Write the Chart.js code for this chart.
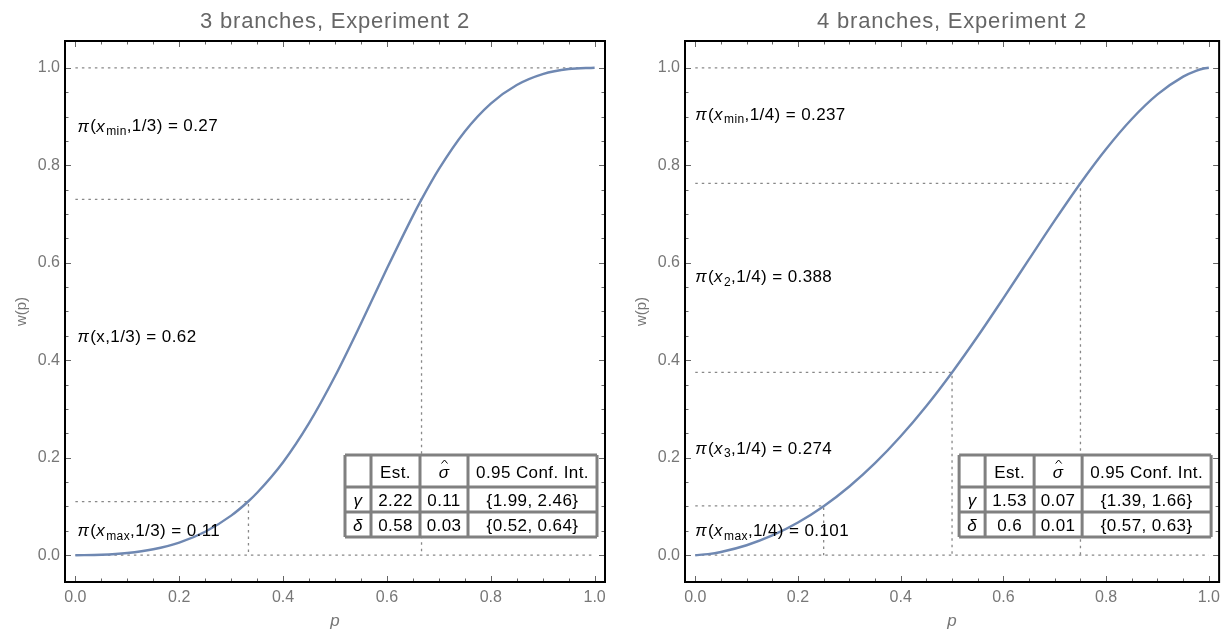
<!DOCTYPE html>
<html>
<head>
<meta charset="utf-8">
<script src="https://cdn.jsdelivr.net/npm/chart.js@4.4.1/dist/chart.umd.min.js"></script>
<style>
  body { margin: 0; background: #fff; }
  .panel { position: absolute; top: 0; height: 634px; }
</style>
</head>
<body>
<div class="panel" style="left:0;width:613px"><canvas id="chart3"></canvas></div>
<div class="panel" style="left:620px;width:606px"><canvas id="chart4"></canvas></div>
<script>
// weighting curve w(p), 3 branches
const p3 = [0, 0.05, 0.1, 0.15, 0.2, 0.25, 0.3, 1/3, 0.35, 0.4, 0.45, 0.5, 0.55, 0.6, 0.65, 2/3, 0.7, 0.75, 0.8, 0.85, 0.9, 0.95, 1];
const w3 = [0, 0.0008, 0.0044, 0.0122, 0.026, 0.0482, 0.0812, 0.1107, 0.128, 0.1908, 0.2709, 0.3671, 0.4753, 0.588, 0.6962, 0.7299, 0.7919, 0.8692, 0.9264, 0.9646, 0.987, 0.9975, 1];
// weighting curve w(p), 4 branches
const p4 = [0, 0.025, 0.05, 0.1, 0.15, 0.2, 0.25, 0.3, 0.35, 0.4, 0.45, 0.5, 0.55, 0.6, 0.65, 0.7, 0.75, 0.8, 0.85, 0.9, 0.95, 0.975, 0.99, 1];
const w4 = [0, 0.0022, 0.0066, 0.0204, 0.0405, 0.0671, 0.1005, 0.141, 0.1888, 0.244, 0.3062, 0.375, 0.4492, 0.5274, 0.6074, 0.6869, 0.7632, 0.8334, 0.895, 0.9454, 0.9819, 0.9939, 0.9985, 1];

// decision weights, listed top (x_min) to bottom (x_max)
const pi3 = [0.27, 0.62, 0.11];
const pi4 = [0.237, 0.388, 0.274, 0.101];
const branchP3 = [2/3, 1/3];          // cumulative probabilities, top to bottom
const branchP4 = [0.75, 0.5, 0.25];

// parameter estimates: gamma, delta
const est3 = [2.22, 0.58], se3 = [0.11, 0.03], ci3 = [[1.99, 2.46], [0.52, 0.64]];
const est4 = [1.53, 0.6],  se4 = [0.07, 0.01], ci4 = [[1.39, 1.66], [0.57, 0.63]];

const xTicks = [0, 0.2, 0.4, 0.6, 0.8, 1.0];
const yTicks = [0, 0.2, 0.4, 0.6, 0.8, 1.0];

const FONT = '"Liberation Sans", Arial, sans-serif';
const GREY = '#777';
Chart.defaults.font.family = FONT;

// label parts: [text, style] where style is '', 'i' (italic) or 'sub'
function piLabel(sub, frac, v) {
  const parts = [['π', 'i'], ['(', '']];
  if (sub === null) parts.push(['x', '']);
  else { parts.push(['x', 'i']); parts.push([sub, 'sub']); }
  parts.push([',' + frac + ') = ' + v, '']);
  return parts;
}

function drawRich(ctx, parts, x, y) {
  ctx.textBaseline = 'middle';
  ctx.textAlign = 'left';
  ctx.fillStyle = '#000';
  ctx.letterSpacing = '0.4px';
  for (const [t, s] of parts) {
    if (s === 'sub') {
      ctx.font = '12px ' + FONT;
      ctx.fillText(t, x, y + 5);
    } else {
      ctx.font = (s === 'i' ? 'italic ' : '') + '17px ' + FONT;
      ctx.fillText(t, x, y);
    }
    x += ctx.measureText(t).width + (s === 'i' ? 1 : 0);
  }
  ctx.letterSpacing = '0px';
}

function drawTable(ctx, area, est, se, ci) {
  const colW = [26, 49, 48, 129];
  const rowH = [32, 25, 25];
  const W = colW.reduce((a, b) => a + b), H = rowH.reduce((a, b) => a + b);
  const x0 = area.right - 8 - W, y0 = area.bottom - 45 - H;
  ctx.save();
  ctx.fillStyle = '#fff';
  ctx.fillRect(x0, y0, W, H);
  const rows = [
    ['', 'Est.', 'σ', '0.95 Conf. Int.'],
    ['γ', String(est[0]), se[0].toFixed(2), '{' + ci[0].join(', ') + '}'],
    ['δ', String(est[1]), se[1].toFixed(2), '{' + ci[1].join(', ') + '}']
  ];
  ctx.textAlign = 'center';
  ctx.textBaseline = 'middle';
  ctx.fillStyle = '#000';
  ctx.letterSpacing = '0.4px';
  let y = y0;
  rows.forEach((row, r) => {
    let x = x0;
    row.forEach((txt, c) => {
      const italic = (c === 0 && r > 0) || (r === 0 && c === 2);
      ctx.font = (italic ? 'italic ' : '') + '17px ' + FONT;
      const cx = x + colW[c] / 2, cy = y + rowH[r] / 2 + 2;
      ctx.fillText(txt, cx, cy);
      if (r === 0 && c === 2) {
        // hat over sigma
        ctx.beginPath();
        ctx.lineWidth = 1;
        ctx.strokeStyle = '#000';
        ctx.moveTo(cx - 2.5, cy - 9.5);
        ctx.lineTo(cx + 0.5, cy - 13);
        ctx.lineTo(cx + 3.5, cy - 9.5);
        ctx.stroke();
      }
      x += colW[c];
    });
    y += rowH[r];
  });
  ctx.letterSpacing = '0px';
  ctx.strokeStyle = '#808080';
  ctx.lineWidth = 3;
  ctx.beginPath();
  let cx = x0;
  for (let c = 0; c <= colW.length; c++) {
    ctx.moveTo(cx, y0); ctx.lineTo(cx, y0 + H);
    cx += colW[c] || 0;
  }
  let cy = y0;
  for (let r = 0; r <= rowH.length; r++) {
    ctx.moveTo(x0, cy); ctx.lineTo(x0 + W, cy);
    cy += rowH[r] || 0;
  }
  ctx.stroke();
  ctx.restore();
}

// frame with inward ticks on all four sides, title and annotations
const framePlugin = {
  id: 'frame',
  afterDatasetsDraw(chart, args, opts) {
    const ctx = chart.ctx, a = chart.chartArea;
    const xs = chart.scales.x, ys = chart.scales.y;
    ctx.save();
    opts.labels.forEach((parts, i) => {
      drawRich(ctx, parts, xs.getPixelForValue(opts.labelX), ys.getPixelForValue(opts.labelY[i]));
    });
    drawTable(ctx, a, opts.est, opts.se, opts.ci);

    ctx.strokeStyle = '#666';
    ctx.lineWidth = 1;
    ctx.beginPath();
    for (let k = 0; k <= 20; k++) {
      const v = k * 0.05, len = k % 4 === 0 ? 6 : 3.5;
      const px = Math.round(xs.getPixelForValue(v)) + 0.5;
      ctx.moveTo(px, a.bottom); ctx.lineTo(px, a.bottom - len);
      ctx.moveTo(px, a.top); ctx.lineTo(px, a.top + len);
      const py = Math.round(ys.getPixelForValue(v)) + 0.5;
      ctx.moveTo(a.left, py); ctx.lineTo(a.left + len, py);
      ctx.moveTo(a.right, py); ctx.lineTo(a.right - len, py);
    }
    ctx.stroke();
    ctx.strokeStyle = '#000';
    ctx.lineWidth = 2;
    ctx.strokeRect(a.left, a.top, a.right - a.left, a.bottom - a.top);

    ctx.font = '22px ' + FONT;
    ctx.letterSpacing = '0.8px';
    ctx.fillStyle = '#666';
    ctx.textAlign = 'center';
    ctx.textBaseline = 'middle';
    ctx.fillText(opts.title, (a.left + a.right) / 2, 21.5);
    ctx.letterSpacing = '0px';
    ctx.restore();
  }
};

function guideSets(branchP, pis) {
  // cumulative weights from the bottom branch upward
  const cum = [];
  let s = 0;
  for (let i = pis.length - 1; i > 0; i--) { s += pis[i]; cum.unshift(+s.toFixed(3)); }
  const dash = { borderColor: '#888', borderWidth: 1.3, borderDash: [2.5, 4], pointRadius: 0, tension: 0, order: 1 };
  const sets = [
    { data: [{ x: 0, y: 1 }, { x: 1, y: 1 }], ...dash },
    { data: [{ x: 0, y: 0 }, { x: 1, y: 0 }], ...dash }
  ];
  branchP.forEach((p, i) => {
    sets.push({ data: [{ x: 0, y: cum[i] }, { x: p, y: cum[i] }, { x: p, y: 0 }], ...dash });
  });
  return sets;
}

function makeChart(id, ps, ws, branchP, pis, frame) {
  return new Chart(document.getElementById(id), {
    type: 'line',
    data: {
      datasets: [
        {
          data: ps.map((p, i) => ({ x: p, y: ws[i] })),
          borderColor: '#6f88b2', borderWidth: 2.4, pointRadius: 0,
          cubicInterpolationMode: 'monotone', order: 0
        },
        ...guideSets(branchP, pis)
      ]
    },
    options: {
      responsive: true, maintainAspectRatio: false, animation: false,
      layout: { padding: { top: 41, right: frame.padRight, left: 0, bottom: 0 } },
      plugins: { legend: { display: false }, tooltip: { enabled: false }, frame },
      scales: {
        x: {
          type: 'linear', min: -0.02, max: 1.02,
          afterBuildTicks: s => { s.ticks = xTicks.map(v => ({ value: v })); },
          afterFit: s => { s.height = 52; },
          grid: { display: false, drawTicks: false }, border: { display: false },
          ticks: { color: GREY, font: { size: 16 }, padding: 6, maxRotation: 0, autoSkip: false, callback: v => v.toFixed(1) },
          title: { display: true, text: 'p', color: GREY, font: { size: 17, style: 'italic', lineHeight: 1.1 }, padding: { top: 0, bottom: 3 } }
        },
        y: {
          type: 'linear', min: -0.055, max: 1.055,
          afterBuildTicks: s => { s.ticks = yTicks.map(v => ({ value: v })); },
          afterFit: s => { s.width = 65; },
          grid: { display: false, drawTicks: false }, border: { display: false },
          ticks: { color: GREY, font: { size: 16 }, padding: 5, autoSkip: false, callback: v => v.toFixed(1) },
          title: { display: true, text: 'w(p)', color: GREY, font: { size: 15, lineHeight: 1.2 }, padding: { top: 13, bottom: 0 } }
        }
      }
    },
    plugins: [framePlugin]
  });
}

makeChart('chart3', p3, w3, branchP3, pi3, {
  title: '3 branches, Experiment 2', padRight: 8,
  labels: [piLabel('min', '1/3', pi3[0]), piLabel(null, '1/3', pi3[1]), piLabel('max', '1/3', pi3[2])],
  labelX: 0.004, labelY: [0.879, 0.447, 0.049],
  est: est3, se: se3, ci: ci3
});

makeChart('chart4', p4, w4, branchP4, pi4, {
  title: '4 branches, Experiment 2', padRight: 2,
  labels: [piLabel('min', '1/4', pi4[0]), piLabel('2', '1/4', pi4[1]), piLabel('3', '1/4', pi4[2]), piLabel('max', '1/4', pi4[3])],
  labelX: 0.0, labelY: [0.903, 0.57, 0.218, 0.049],
  est: est4, se: se4, ci: ci4
});
</script>
</body>
</html>
